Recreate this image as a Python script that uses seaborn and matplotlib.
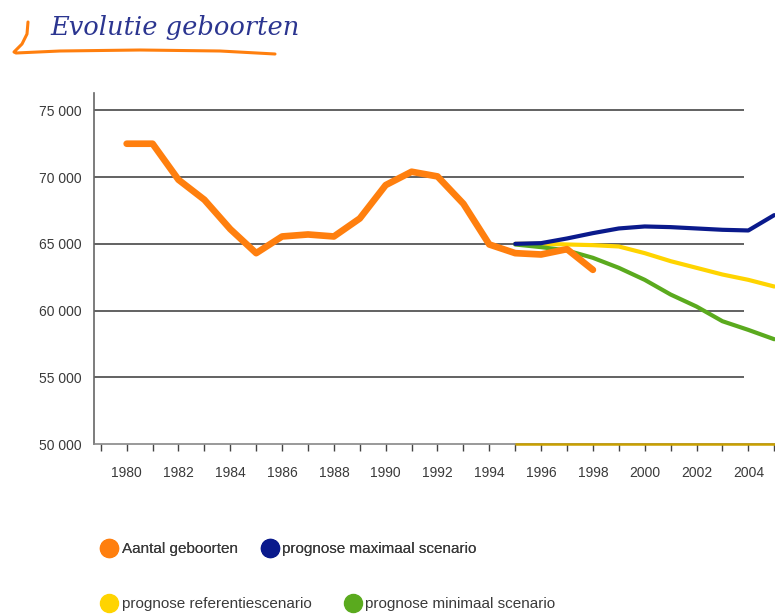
"""
Evolutie geboorten — lijngrafiek met prognosescenario's.
"""

import matplotlib
matplotlib.use("Agg")

import matplotlib.pyplot as plt
from matplotlib.lines import Line2D
from matplotlib.ticker import FuncFormatter, MultipleLocator
import numpy as np
import pandas as pd
import seaborn as sns

# Gegevens
jaren_geboorten = list(range(1980, 1999))
aantal_geboorten = [72500, 72500, 69800, 68300, 66100, 64300, 65550, 65700, 65550,
                    66900, 69400, 70400, 70050, 68000, 64950, 64300, 64200, 64600, 63050]

jaren_prognose = list(range(1995, 2006))
prognose_maximaal = [65000, 65050, 65400, 65800, 66150, 66300, 66250, 66150, 66050, 66000, 67150]
prognose_referentie = [65000, 65000, 64950, 64900, 64800, 64300, 63700, 63200, 62700, 62300, 61800]
prognose_minimaal = [64950, 64750, 64500, 63950, 63200, 62300, 61200, 60300, 59200, 58550, 57850]

y_ticks = [50000, 55000, 60000, 65000, 70000, 75000]

# Kleuren
ORANJE = "#FF7F0E"
BLAUW = "#0A1A8C"
GEEL = "#FFD400"
GROEN = "#5AAA1E"
GOUD = "#C9A000"
TITEL_KLEUR = "#2B3590"
TEKST = "#3A3A3A"
GRID = "#555555"

sns.set_theme(style="white")
plt.rcParams["font.family"] = ["Liberation Sans Narrow", "Liberation Sans", "DejaVu Sans"]

fig = plt.figure(figsize=(7.75, 6.14), dpi=100)
W, H = 775, 614
ax = fig.add_axes([94.3 / W, (H - 444) / H, 1 - 94.3 / W, (444 - 93) / H])

df_geb = pd.DataFrame({"jaar": jaren_geboorten, "waarde": aantal_geboorten})
df_prog = pd.DataFrame({
    "jaar": jaren_prognose * 3,
    "waarde": prognose_maximaal + prognose_referentie + prognose_minimaal,
    "reeks": (["prognose maximaal scenario"] * len(jaren_prognose)
              + ["prognose referentiescenario"] * len(jaren_prognose)
              + ["prognose minimaal scenario"] * len(jaren_prognose)),
})

ax.set_xlim(1978.75, 2005.03)
ax.set_ylim(50000, 76300)

# Rasterlijnen (eindigen net voor 2004)
ax.hlines(y_ticks[1:], 1978.75, 2003.83, color=GRID, linewidth=1.3, zorder=1)

sns.lineplot(data=df_prog[df_prog["reeks"] == "prognose referentiescenario"], x="jaar", y="waarde",
             color=GEEL, linewidth=3.0, ax=ax, zorder=3, clip_on=False)
sns.lineplot(data=df_prog[df_prog["reeks"] == "prognose minimaal scenario"], x="jaar", y="waarde",
             color=GROEN, linewidth=3.0, ax=ax, zorder=3, clip_on=False)
sns.lineplot(data=df_prog[df_prog["reeks"] == "prognose maximaal scenario"], x="jaar", y="waarde",
             color=BLAUW, linewidth=3.0, ax=ax, zorder=4, clip_on=False)
sns.lineplot(data=df_geb, x="jaar", y="waarde", color=ORANJE, linewidth=4.8, ax=ax, zorder=5,
             solid_capstyle="round", solid_joinstyle="round")

# Gouden lijn langs de basis vanaf het prognosejaar
ax.hlines(y_ticks[0], jaren_prognose[0], ax.get_xlim()[1], color=GOUD, linewidth=1.8,
          zorder=6, clip_on=False)

# Assen
for kant in ["top", "right"]:
    ax.spines[kant].set_visible(False)
ax.spines["left"].set_color("#666666")
ax.spines["left"].set_linewidth(1.2)
ax.spines["bottom"].set_color("#888888")
ax.spines["bottom"].set_linewidth(1.2)

ax.set_yticks(y_ticks)
ax.yaxis.set_major_formatter(FuncFormatter(lambda v, p: f"{int(v):,}".replace(",", " ")))
ax.tick_params(axis="y", length=0, pad=9, labelsize=10, labelcolor=TEKST)

ax.xaxis.set_major_locator(MultipleLocator(2))
ax.xaxis.set_minor_locator(MultipleLocator(1))
ax.set_xticks(list(range(1980, 2006, 2)))
ax.tick_params(axis="x", which="both", direction="out", length=5, width=1, color="#444444",
               bottom=True, pad=11, labelsize=10, labelcolor=TEKST)
ax.set_xlabel("")
ax.set_ylabel("")

# Titel met oranje krul
fig.text(50 / W, 1 - 28 / H, "Evolutie geboorten", fontsize=18.5, style="italic",
         family=["DejaVu Serif"], color=TITEL_KLEUR, va="center", ha="left")
krul_x = np.array([28, 27, 22, 14, 16, 60, 140, 220, 275])
krul_y = np.array([22, 34, 44, 52, 53, 51, 50, 51, 54])
fig.add_artist(Line2D(krul_x / W, 1 - krul_y / H, color=ORANJE, linewidth=2.2,
                      solid_capstyle="round"))

# Legenda in twee rijen
def handle(kleur):
    return Line2D([], [], marker="o", linestyle="none", markersize=13,
                  markerfacecolor=kleur, markeredgecolor=kleur)

leg1 = fig.legend([handle(ORANJE), handle(BLAUW)],
                  ["Aantal geboorten", "prognose maximaal scenario"],
                  loc="center left", bbox_to_anchor=(88 / W, 1 - 549 / H), ncol=2,
                  frameon=False, fontsize=11, handletextpad=0.3, columnspacing=1.6,
                  handlelength=1.0, labelcolor=TEKST)
leg2 = fig.legend([handle(GEEL), handle(GROEN)],
                  ["prognose referentiescenario", "prognose minimaal scenario"],
                  loc="center left", bbox_to_anchor=(88 / W, 1 - 604 / H), ncol=2,
                  frameon=False, fontsize=11, handletextpad=0.3, columnspacing=2.2,
                  handlelength=1.0, labelcolor=TEKST)
fig.add_artist(leg1)

fig.savefig("out.png", dpi=100)
plt.close(fig)
